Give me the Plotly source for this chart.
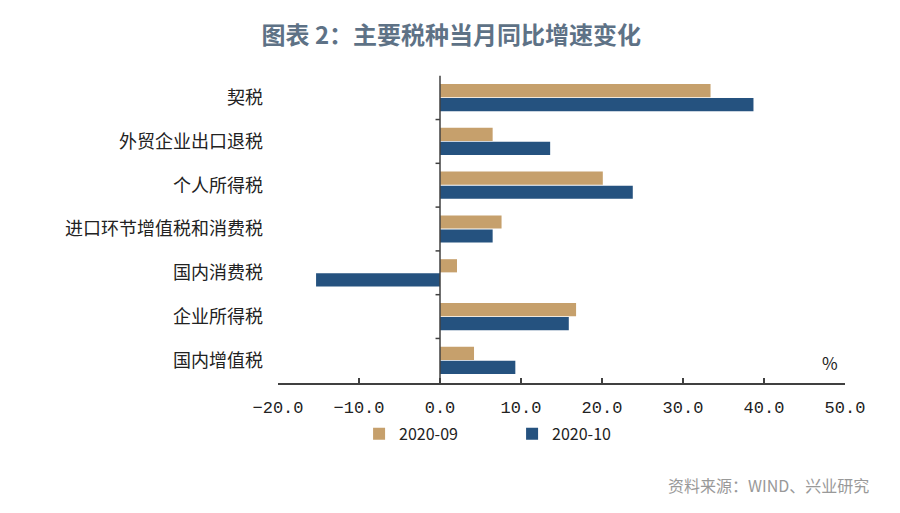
import plotly.graph_objects as go

# --- data ---
categories = ['契税', '外贸企业出口退税', '个人所得税', '进口环节增值税和消费税',
              '国内消费税', '企业所得税', '国内增值税']
sep_2020 = [33.4, 6.5, 20.1, 7.6, 2.1, 16.8, 4.2]
oct_2020 = [38.7, 13.6, 23.8, 6.5, -15.3, 15.9, 9.3]
series_names = ['2020-09', '2020-10']
x_ticks = [-20, -10, 0, 10, 20, 30, 40, 50]

TAN = '#C6A06C'
BLUE = '#25527F'
CJK = 'Noto Sans CJK SC'

fig = go.Figure()
fig.add_trace(go.Bar(y=categories, x=sep_2020, orientation='h', name=series_names[0],
                     marker=dict(color=TAN, line=dict(width=0))))
fig.add_trace(go.Bar(y=categories, x=oct_2020, orientation='h', name=series_names[1],
                     marker=dict(color=BLUE, line=dict(width=0))))

# vertical zero line with boundary ticks, like the original axis
fig.add_shape(type='line', xref='x', yref='y', x0=0, x1=0, y0=-0.5, y1=len(categories) - 0.5,
              line=dict(color='#404040', width=1.5))
for i in range(len(categories) - 1):
    fig.add_shape(type='line', xref='x', yref='y', x0=-0.55, x1=0, y0=i + 0.5, y1=i + 0.5,
                  line=dict(color='#404040', width=1.5))

fig.update_layout(
    width=892, height=505,
    margin=dict(l=270, r=55, t=67, b=130),
    plot_bgcolor='white', paper_bgcolor='white',
    barmode='group', bargap=0.36, bargroupgap=0.06,
    font=dict(family=CJK, color='#222'),
    title=dict(text='<b>图表 2：主要税种当月同比增速变化</b>', x=0.497, xref='container', xanchor='center',
               y=0.945, yanchor='middle', font=dict(size=24, color='#5E7286', family=CJK)),
    xaxis=dict(range=[-20, 50], tickvals=x_ticks, tickformat='.1f',
               showline=True, linecolor='#404040', linewidth=1.5,
               ticks='inside', ticklen=5, tickcolor='#404040', tickwidth=1.5,
               ticklabelstandoff=8,
               showgrid=False, zeroline=False,
               tickfont=dict(size=17, color='#222', family='Liberation Mono, ' + CJK)),
    yaxis=dict(autorange='reversed', showgrid=False, showline=False, zeroline=False,
               ticks='', ticklabelstandoff=14,
               tickfont=dict(size=18, color='#222', family=CJK)),
    legend=dict(orientation='h', x=0.143, xanchor='left', y=-0.165, yanchor='middle',
                entrywidth=108, itemwidth=30,
                font=dict(size=16, color='#222', family='Liberation Sans Narrow, ' + CJK),
                bgcolor='rgba(0,0,0,0)'),
    showlegend=True,
)

fig.add_annotation(text='%', xref='paper', yref='paper', x=0.973, y=0.068,
                   xanchor='center', yanchor='middle', showarrow=False,
                   font=dict(size=17, color='#222'))
fig.add_annotation(text='资料来源：WIND、兴业研究', xref='paper', yref='paper', x=1.045, y=-0.33,
                   xanchor='right', yanchor='middle', showarrow=False,
                   font=dict(size=16, color='#999', family=CJK))

fig.write_html('out.html')
